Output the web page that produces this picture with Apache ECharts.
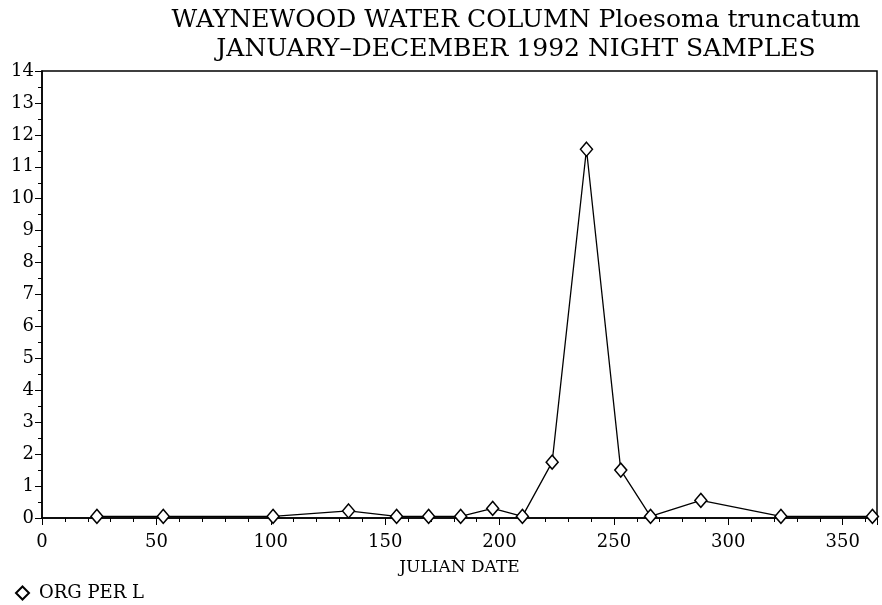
<!DOCTYPE html>
<html><head><meta charset="utf-8">
<script src="https://cdn.jsdelivr.net/npm/echarts@6/dist/echarts.min.js"></script>
<style>html,body{margin:0;padding:0;background:#fff}#c{width:882px;height:605px}</style>
</head><body><div id="c"></div>
<script>
var titleLines = ['WAYNEWOOD WATER COLUMN Ploesoma truncatum', 'JANUARY\u2013DECEMBER 1992 NIGHT SAMPLES'];
var xName = 'JULIAN DATE';
var seriesName = 'ORG PER L';
var julianDates = [24, 53, 101, 134, 155, 169, 183, 197, 210, 223, 238, 253, 266, 288, 323, 363];
var orgPerL = [0.05, 0.05, 0.05, 0.22, 0.05, 0.05, 0.05, 0.3, 0.05, 1.75, 11.55, 1.5, 0.05, 0.55, 0.05, 0.05];

var FONT = 'DejaVu Serif';
var chart = echarts.init(document.getElementById('c'), null, {renderer: 'canvas'});
chart.setOption({
  animation: false,
  backgroundColor: '#fff',
  title: {
    text: titleLines.join('\n'),
    left: 511, top: 1, textAlign: 'center',
    textStyle: {fontFamily: FONT, fontSize: 25, fontWeight: 'normal', color: '#000', lineHeight: 29}
  },
  legend: {
    show: true, left: 10, top: 579, itemWidth: 13, itemHeight: 13, itemGap: 6,
    data: [{name: seriesName, icon: 'diamond'}],
    textStyle: {fontFamily: FONT, fontSize: 18, color: '#000', padding: [0, 0, 0, 5]}
  },
  grid: {left: 42, right: 5, top: 71, bottom: 87, show: true, borderColor: '#000', borderWidth: 1.5},
  xAxis: {
    type: 'value', min: 0, max: 365, interval: 50,
    name: xName, nameLocation: 'middle', nameGap: 41,
    nameTextStyle: {fontFamily: FONT, fontSize: 17, color: '#000'},
    axisLine: {lineStyle: {color: '#000', width: 1.5}},
    axisTick: {show: true, length: 7, lineStyle: {color: '#000'}},
    minorTick: {show: true, splitNumber: 5, length: 4, lineStyle: {color: '#000'}},
    axisLabel: {fontFamily: FONT, fontSize: 18, color: '#000', margin: 15, showMaxLabel: false},
    splitLine: {show: false}
  },
  yAxis: {
    type: 'value', min: 0, max: 14, interval: 1,
    axisLine: {show: true, lineStyle: {color: '#000', width: 1.5}},
    axisTick: {show: true, length: 7, lineStyle: {color: '#000'}},
    minorTick: {show: true, splitNumber: 2, length: 4, lineStyle: {color: '#000'}},
    axisLabel: {fontFamily: FONT, fontSize: 18, color: '#000', margin: 8},
    splitLine: {show: false}
  },
  series: [{
    name: seriesName, type: 'line',
    data: julianDates.map(function (d, i) { return [d, orgPerL[i]]; }),
    symbol: 'diamond', symbolSize: [12, 14],
    itemStyle: {color: '#fff', borderColor: '#000', borderWidth: 1.5},
    lineStyle: {color: '#000', width: 1.3}
  }]
});
</script></body></html>
